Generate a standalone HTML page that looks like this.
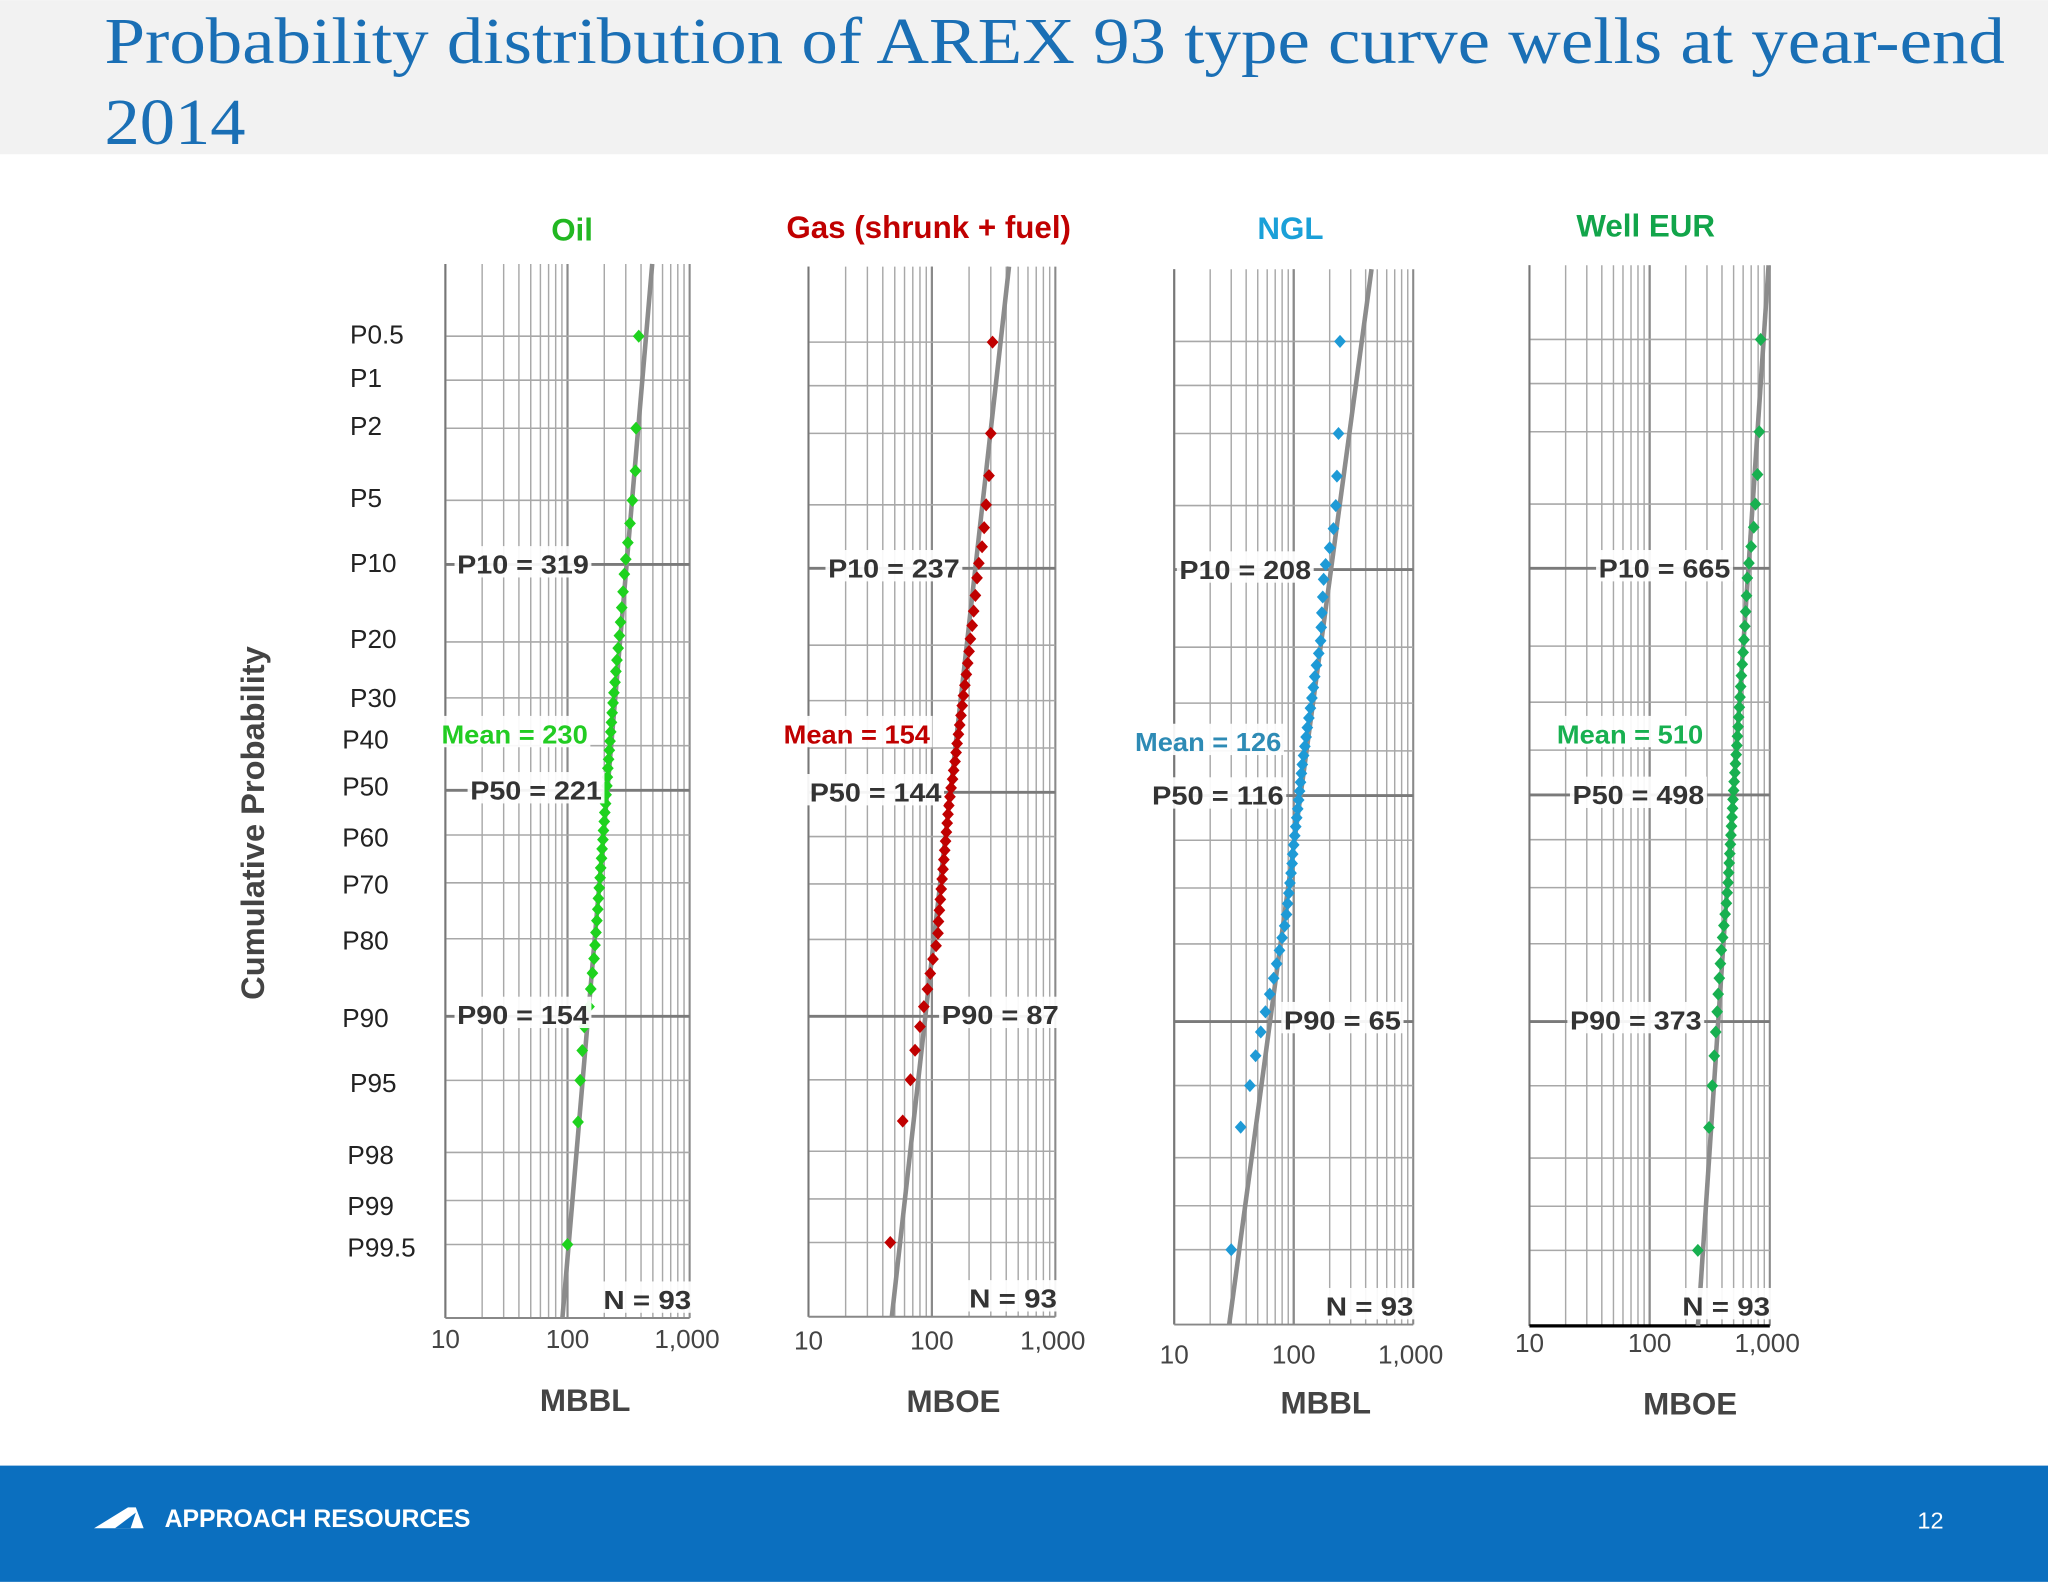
<!DOCTYPE html>
<html><head><meta charset="utf-8">
<style>
html,body{margin:0;padding:0;background:#fff;}
svg{display:block;font-family:"Liberation Sans",Arial,sans-serif;}
</style></head>
<body>
<svg id="chart" width="2048" height="1582" viewBox="0 0 1568 1211" xmlns="http://www.w3.org/2000/svg">
  <rect x="0" y="0" width="1568" height="118" fill="#f2f2f2"/>
  <text x="80" y="48" font-family="'Liberation Serif',serif" font-size="50" fill="#1a6fb5" textLength="1455" lengthAdjust="spacingAndGlyphs">Probability distribution of AREX 93 type curve wells at year-end</text>
  <text x="80" y="110" font-family="'Liberation Serif',serif" font-size="50" fill="#1a6fb5" textLength="108" lengthAdjust="spacingAndGlyphs">2014</text>
  <rect x="0" y="1122" width="1568" height="89" fill="#0b6fbf"/>
  <polygon points="72,1170 98,1154 104,1154 110,1170" fill="#fff"/>
  <polygon points="88,1170 104,1158 100,1170" fill="#0b6fbf"/>
  <text x="126" y="1169" font-size="19" font-weight="bold" fill="#fff">APPROACH RESOURCES</text>
  <text x="1468" y="1170" font-size="18" fill="#fff">12</text>
  <text transform="translate(202,630) rotate(-90)" text-anchor="middle" font-size="25" font-weight="bold" fill="#444">Cumulative Probability</text>
  <g id="plots"></g>
</svg>
<script>
const probLabels = [0.5,1,2,5,10,20,30,40,50,60,70,80,90,95,98,99,99.5];
const probPts = [0.5,2,3.5,5,6.5,8,9.5,11,13,15,17,19,21,23,25,27,29,31,33,35,37,39,41,43,45,47,49,51,53,55,57,59,61,63,65,67,69,71,73,75,77,79,81,83,85,87,89,91,93,95,97,99.5];
const oilValues = [383,364,360,340,325,312,300,292,285,278,272,266,260,254,249,245,240,236,232,229,226,223,220,217,214,212,210,207,205,202,200,197,195,192,190,187,185,182,179,177,174,171,168,165,160,155,150,137,132,127,122,100];
const gasValues = [310,300,290,275,265,255,240,232,225,218,212,205,200,195,190,185,180,176,172,168,164,160,157,154,150,147,143,140,137,135,133,131,129,127,125,123,121,119,117,115,113,112,108,102,97,92,86,80,73,67,58,46];
const nglValues = [244,237,230,225,215,200,185,178,175,172,170,168,162,155,150,146,142,138,134,130,127,124,121,118,116,114,112,110,108,106,104,102,100,98,97,95,93,91,89,87,84,80,76,72,68,63,58,53,48,43,36,30];
const eurValues = [840,818,790,760,735,700,670,650,640,630,620,610,600,590,580,572,565,558,551,545,538,532,525,518,512,505,500,494,490,485,480,475,470,465,460,455,450,442,435,425,415,405,395,388,380,372,365,355,345,332,312,252];
const xTicks = [10,100,1000];
const xTickLabels = ["10","100","1,000"];
const panelTitles = ["Oil","Gas (shrunk + fuel)","NGL","Well EUR"];
const panelUnits = ["MBBL","MBOE","MBBL","MBOE"];
const fitMedians = [212,141,114,497];
const fitLogSlopes = [0.123,0.158,0.199,0.098];
const p10Labels = ["P10 = 319","P10 = 237","P10 = 208","P10 = 665"];
const meanLabels = ["Mean = 230","Mean = 154","Mean = 126","Mean = 510"];
const p50Labels = ["P50 = 221","P50 = 144","P50 = 116","P50 = 498"];
const p90Labels = ["P90 = 154","P90 = 87","P90 = 65","P90 = 373"];
const series = [oilValues,gasValues,nglValues,eurValues];

const panels = [
 {x0:341,x1:528,top:202,bot:1009,y10:432,y90:778,col:"#1ed21e",tcol:"#22b722",mcol:"#22cc22",tx:438,ty:184,tickY:1032,unitX:448,unitY:1080,
  p10x:350,meanx:338,meany:569,p50x:360,p90x:350,nx:462,ny:1002},
 {x0:619,x1:808,top:204,bot:1008,y10:435,y90:778,col:"#c00000",tcol:"#c00000",mcol:"#c00000",tx:711,ty:182,tickY:1033,unitX:730,unitY:1081,
  p10x:634,meanx:600,meany:569,p50x:620,p90x:721,nx:742,ny:1001},
 {x0:899,x1:1082,top:206,bot:1014,y10:436,y90:782,col:"#1e9ad6",tcol:"#1aa0d8",mcol:"#2e8bb5",tx:988,ty:183,tickY:1044,unitX:1015,unitY:1082,
  p10x:903,meanx:869,meany:575,p50x:882,p90x:983,nx:1015,ny:1007},
 {x0:1171,x1:1355,top:203,bot:1015,y10:435,y90:782,col:"#18b050",tcol:"#12a54a",mcol:"#18b050",tx:1260,ty:181,tickY:1035,unitX:1294,unitY:1083,
  p10x:1224,meanx:1192,meany:569,p50x:1204,p90x:1202,nx:1288,ny:1007}
];
const labelYs = [256,289,326,381,431,489,534,566,602,641,677,720,779,829,884,923,955];

function normInv(p){
  const a=[-39.69683028665376,220.9460984245205,-275.9285104469687,138.3577518672690,-30.66479806614716,2.506628277459239];
  const b=[-54.47609879822406,161.5858368580409,-155.6989798598866,66.80131188771972,-13.28068155288572];
  const c=[-0.007784894002430293,-0.3223964580411365,-2.400758277161838,-2.549732539343734,4.374664141464968,2.938163982698783];
  const d=[0.007784695709041462,0.3224671290700398,2.445134137142996,3.754408661907416];
  let q,r;
  if(p<0.02425){q=Math.sqrt(-2*Math.log(p));return (((((c[0]*q+c[1])*q+c[2])*q+c[3])*q+c[4])*q+c[5])/((((d[0]*q+d[1])*q+d[2])*q+d[3])*q+1);}
  if(p>1-0.02425){q=Math.sqrt(-2*Math.log(1-p));return -(((((c[0]*q+c[1])*q+c[2])*q+c[3])*q+c[4])*q+c[5])/((((d[0]*q+d[1])*q+d[2])*q+d[3])*q+1);}
  q=p-0.5;r=q*q;return (((((a[0]*r+a[1])*r+a[2])*r+a[3])*r+a[4])*r+a[5])*q/(((((b[0]*r+b[1])*r+b[2])*r+b[3])*r+b[4])*r+1);
}
const NS="http://www.w3.org/2000/svg";
const root=document.getElementById("plots");
function mk(tag,attrs,parent){const e=document.createElementNS(NS,tag);for(const k in attrs)e.setAttribute(k,attrs[k]);(parent||root).appendChild(e);return e;}

probLabels.forEach((p,i)=>{
  const t=mk("text",{x:i>=14?266:(p>=40&&p<=90?262:268),y:labelYs[i]+7,"font-size":20,fill:"#222"});
  t.textContent="P"+p;
  
  
});

panels.forEach((P,pi)=>{
  const g=mk("g",{});
  
  
  const k=(P.y90-P.y10)/(2*1.2816), ymid=(P.y10+P.y90)/2;
  const yS=p=>ymid+k*normInv(p/100);
  const dec=(P.x1-P.x0)/2;
  const xS=v=>P.x0+dec*Math.log10(v/10);
  for(let d=10;d<=100;d*=10){for(let m=1;m<=10;m++){const v=d*m;if(v>1000)continue;
    const major=(m===1||m===10);
    mk("line",{x1:xS(v),x2:xS(v),y1:P.top,y2:P.bot,stroke:major?"#8a8a8a":"#a8a8a8","stroke-width":major?1.6:1.1},g);}}
  probLabels.forEach(p=>{const major=[10,50,90].includes(p);
    mk("line",{x1:P.x0,x2:P.x1,y1:yS(p),y2:yS(p),stroke:major?"#7a7a7a":"#a8a8a8","stroke-width":major?2.2:1.2},g);});
  mk("line",{x1:P.x0,x2:P.x0,y1:P.top,y2:P.bot,stroke:"#777","stroke-width":1.5},g);
  mk("line",{x1:P.x0,x2:P.x1,y1:P.bot,y2:P.bot,stroke:pi===3?"#000":"#888","stroke-width":pi===3?2.5:1.5},g);
  const zt=(P.top-ymid)/k, zb=(P.bot-ymid)/k;
  const vt=fitMedians[pi]*Math.pow(10,-fitLogSlopes[pi]*zt), vb=fitMedians[pi]*Math.pow(10,-fitLogSlopes[pi]*zb);
  const fl=mk("line",{x1:xS(vt),y1:P.top,x2:xS(vb),y2:P.bot,stroke:"#8c8c8c","stroke-width":3.5},g);
  
  
  function lab(txt,x,y,col,name){
    const w=txt.length*11.2;
    mk("rect",{x:x-2,y:y-14,width:w+4,height:24,fill:"#fff","fill-opacity":0.92},g);
    const t=mk("text",{x:x,y:y+7,"font-size":20,"font-weight":"bold",fill:col,textLength:w,lengthAdjust:"spacingAndGlyphs"},g);
    t.textContent=txt;
    
    
  }
  series[pi].forEach((v,i)=>{
    const x=xS(v),y=yS(probPts[i]);
    const d=mk("polygon",{points:`${x},${y-5} ${x+4.5},${y} ${x},${y+5} ${x-4.5},${y}`,fill:P.col},g);
    
    
  });
  lab(p10Labels[pi],P.p10x,yS(10),"#333","p10-label");
  lab(meanLabels[pi],P.meanx,P.meany-7,P.mcol,"mean-label");
  lab(p50Labels[pi],P.p50x,yS(50),"#333","p50-label");
  lab(p90Labels[pi],P.p90x,yS(90)-1,"#333","p90-label");
  lab("N = 93",P.nx,P.ny-7,"#333","n-label");
  xTicks.forEach((v,i)=>{const t=mk("text",{x:xS(v)+(i===2?-2:0),y:P.tickY,"font-size":20,fill:"#444","text-anchor":"middle"},g);
    t.textContent=xTickLabels[i];
    
    });
  const u=mk("text",{x:P.unitX,y:P.unitY,"font-size":24,"font-weight":"bold",fill:"#444","text-anchor":"middle"},g);
  u.textContent=panelUnits[pi];
  
  
  const tt=mk("text",{x:P.tx,y:P.ty,"font-size":24,"font-weight":"bold",fill:P.tcol,"text-anchor":"middle"},g);
  tt.textContent=panelTitles[pi];
  
  
});
</script>
</body></html>
